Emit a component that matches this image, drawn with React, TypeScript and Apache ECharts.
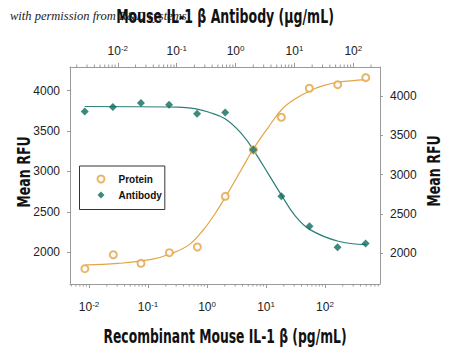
import React, { useEffect, useRef } from "react";
import * as echarts from "echarts";

// Recombinant Mouse IL-1 beta (pg/mL) vs Mean RFU (left axis)
const proteinConc = [0.0085, 0.0258, 0.076, 0.23, 0.686, 2.04, 6.1, 18.2, 54.2, 164, 490];
const proteinRFU = [1797, 1970, 1864, 1995, 2066, 2693, 3268, 3671, 4030, 4074, 4161];
// fitted curve
const proteinFitConc = [0.00845, 0.031, 0.114, 0.25, 0.5, 0.85, 1.4, 2.2, 3.87, 6.1, 10.94, 18.45, 31.0, 55.7, 93.5, 168, 495];
const proteinFitRFU = [1843, 1862, 1912, 1985, 2095, 2270, 2490, 2720, 3031, 3278, 3547, 3767, 3897, 4000, 4062, 4104, 4136];

// Mouse IL-1 beta Antibody (ug/mL) vs Mean RFU (right axis)
const antibodyConc = [0.00274, 0.00823, 0.0247, 0.0741, 0.222, 0.667, 2, 6, 18, 54, 162];
const antibodyRFU = [3804, 3860, 3911, 3889, 3774, 3791, 3315, 2724, 2342, 2074, 2120];
const antibodyFitConc = [0.00274, 0.1054, 0.221, 0.344, 0.662, 1.27, 2.0, 3.6, 6.08, 10.23, 18.4, 55.6, 164];
const antibodyFitRFU = [3867, 3860, 3834, 3796, 3710, 3519, 3315, 3009, 2732, 2477, 2298, 2150, 2107];

// axis extents
const bottomMin = 0.00476;
const bottomMax = 855;
const topMin = 0.00154;
const topMax = 284;
const leftMin = 1608;
const leftMax = 4293;
const rightMin = 1605;
const rightMax = 4370;

const minorMultipliers = [2, 3, 4, 5, 6, 7, 8, 9];
const decades = [0.001, 0.01, 0.1, 1, 10, 100];

const TITLE_FONT = "'DejaVu Sans', sans-serif";
const LABEL_FONT = "'Liberation Sans', Arial, sans-serif";
const ORANGE = "#E3A444";
const TEAL_LINE = "#2C7F79";
const TEAL_PT = "#0E6A5C";
const AXIS = "#9a9a9a";

function minorTicks(min: number, max: number) {
  const out: number[] = [];
  decades.forEach((d) =>
    minorMultipliers.forEach((m) => {
      const v = d * m;
      if (v > min && v < max) out.push(v);
    })
  );
  return out;
}

function powLabel(v: number) {
  const e = Math.log10(v);
  const r = Math.round(e);
  if (Math.abs(e - r) > 1e-6) return "";
  return `{b|10}{s|${r}}`;
}

const labelRich = {
  b: { fontSize: 12, fontFamily: LABEL_FONT, color: "#222" },
  s: { fontSize: 8, fontFamily: LABEL_FONT, color: "#222", verticalAlign: "top", padding: [0, 0, 6, 0] },
};

export default function App() {
  const ref = useRef<HTMLDivElement>(null);
  useEffect(() => {
    if (!ref.current) return;
    const chart = echarts.init(ref.current, null, { renderer: "svg" });

    const tickSeries = (vals: number[], xIdx: number, yIdx: number, side: "bottom" | "top") => ({
      type: "custom",
      xAxisIndex: xIdx,
      yAxisIndex: yIdx,
      silent: true,
      clip: false,
      z: 1,
      data: vals.map((v) => [v, yIdx === 0 ? leftMin : rightMin]),
      renderItem: (params: any, api: any) => {
        const x = api.coord([api.value(0), api.value(1)])[0];
        const cs = params.coordSys;
        const y0 = side === "bottom" ? cs.y + cs.height : cs.y;
        const y1 = side === "bottom" ? y0 + 2.5 : y0 - 2.5;
        return {
          type: "line",
          shape: { x1: x, y1: y0, x2: x, y2: y1 },
          style: { stroke: AXIS, lineWidth: 1 },
        };
      },
    });

    const yLabel = {
      fontFamily: LABEL_FONT,
      fontSize: 12,
      color: "#222",
      margin: 10,
      showMinLabel: false,
      showMaxLabel: false,
      formatter: (v: number) => String(v),
    };

    chart.setOption({
      animation: false,
      backgroundColor: "#ffffff",
      grid: { left: 70, right: 70, top: 67, bottom: 67, containLabel: false },
      legend: {
        left: 79.5,
        top: 166,
        orient: "vertical",
        data: ["Protein", "Antibody"],
        borderColor: "#333",
        borderWidth: 1,
        padding: [6.5, 3, 8, 17],
        itemWidth: 7,
        itemHeight: 7,
        itemGap: 3,
        textStyle: { fontFamily: LABEL_FONT, fontSize: 10, fontWeight: "bold", color: "#111", padding: [0, 0, 0, 9], lineHeight: 13 },
      },
      xAxis: [
        {
          type: "log",
          position: "bottom",
          min: bottomMin,
          max: bottomMax,
          axisLine: { show: true, lineStyle: { color: AXIS } },
          axisTick: { show: true, inside: false, length: 4, lineStyle: { color: AXIS } },
          splitLine: { show: false },
          axisLabel: { formatter: powLabel, rich: labelRich, margin: 16, showMinLabel: false, showMaxLabel: false },
        },
        {
          type: "log",
          position: "top",
          min: topMin,
          max: topMax,
          axisLine: { show: true, lineStyle: { color: AXIS } },
          axisTick: { show: true, inside: false, length: 4, lineStyle: { color: AXIS } },
          splitLine: { show: false },
          axisLabel: { formatter: powLabel, rich: labelRich, margin: 9, showMinLabel: false, showMaxLabel: false },
        },
      ],
      yAxis: [
        {
          type: "value",
          position: "left",
          min: leftMin,
          max: leftMax,
          axisLine: { show: true, lineStyle: { color: AXIS } },
          axisTick: { show: true, inside: false, length: 3, lineStyle: { color: AXIS } },
          splitLine: { show: false },
          axisLabel: yLabel,
        },
        {
          type: "value",
          position: "right",
          min: rightMin,
          max: rightMax,
          axisLine: { show: true, lineStyle: { color: AXIS } },
          axisTick: { show: true, inside: false, length: 3, lineStyle: { color: AXIS } },
          splitLine: { show: false },
          axisLabel: yLabel,
        },
      ],
      graphic: [
        {
          type: "text",
          left: 10,
          top: 9,
          z: 1,
          style: { text: "with permission from R&D systems", font: "italic 12.5px 'Liberation Serif', 'DejaVu Serif', serif", fill: "#222" },
        },
        {
          type: "text",
          x: 225,
          y: 17,
          scaleX: 0.66,
          z: 10,
          style: { text: "Mouse IL-1 β Antibody (µg/mL)", font: `bold 19px ${TITLE_FONT}`, fill: "#111", textAlign: "center", textVerticalAlign: "middle" },
        },
        {
          type: "text",
          x: 225,
          y: 336,
          scaleX: 0.65,
          style: { text: "Recombinant Mouse IL-1 β (pg/mL)", font: `bold 19px ${TITLE_FONT}`, fill: "#111", textAlign: "center", textVerticalAlign: "middle" },
        },
        {
          type: "text",
          x: 24,
          y: 172,
          rotation: Math.PI / 2,
          scaleX: 0.7,
          style: { text: "Mean RFU", font: `bold 18px ${TITLE_FONT}`, fill: "#111", textAlign: "center", textVerticalAlign: "middle" },
        },
        {
          type: "text",
          x: 434,
          y: 171,
          rotation: Math.PI / 2,
          scaleX: 0.7,
          style: { text: "Mean RFU", font: `bold 18px ${TITLE_FONT}`, fill: "#111", textAlign: "center", textVerticalAlign: "middle" },
        },
      ],
      series: [
        tickSeries(minorTicks(bottomMin, bottomMax), 0, 0, "bottom"),
        tickSeries(minorTicks(topMin, topMax), 1, 1, "top"),
        {
          name: "ProteinFit",
          type: "line",
          xAxisIndex: 0,
          yAxisIndex: 0,
          smooth: 0.4,
          symbol: "none",
          silent: true,
          z: 2,
          lineStyle: { color: ORANGE, width: 1.2 },
          data: proteinFitConc.map((c, i) => [c, proteinFitRFU[i]]),
        },
        {
          name: "AntibodyFit",
          type: "line",
          xAxisIndex: 1,
          yAxisIndex: 1,
          smooth: 0.4,
          symbol: "none",
          silent: true,
          z: 2,
          lineStyle: { color: TEAL_LINE, width: 1.2 },
          data: antibodyFitConc.map((c, i) => [c, antibodyFitRFU[i]]),
        },
        {
          name: "Protein",
          type: "scatter",
          xAxisIndex: 0,
          yAxisIndex: 0,
          symbol: "emptyCircle",
          symbolSize: 7,
          z: 3,
          itemStyle: { color: ORANGE, borderColor: ORANGE, borderWidth: 0.9 },
          data: proteinConc.map((c, i) => [c, proteinRFU[i]]),
        },
        {
          name: "Antibody",
          type: "scatter",
          xAxisIndex: 1,
          yAxisIndex: 1,
          symbol: "diamond",
          symbolSize: 8,
          z: 4,
          itemStyle: { color: TEAL_PT },
          data: antibodyConc.map((c, i) => [c, antibodyRFU[i]]),
        },
      ],
    });
    return () => chart.dispose();
  }, []);
  return <div ref={ref} style={{ width: 450, height: 351, position: "absolute", left: 0, top: 0 }} />;
}
